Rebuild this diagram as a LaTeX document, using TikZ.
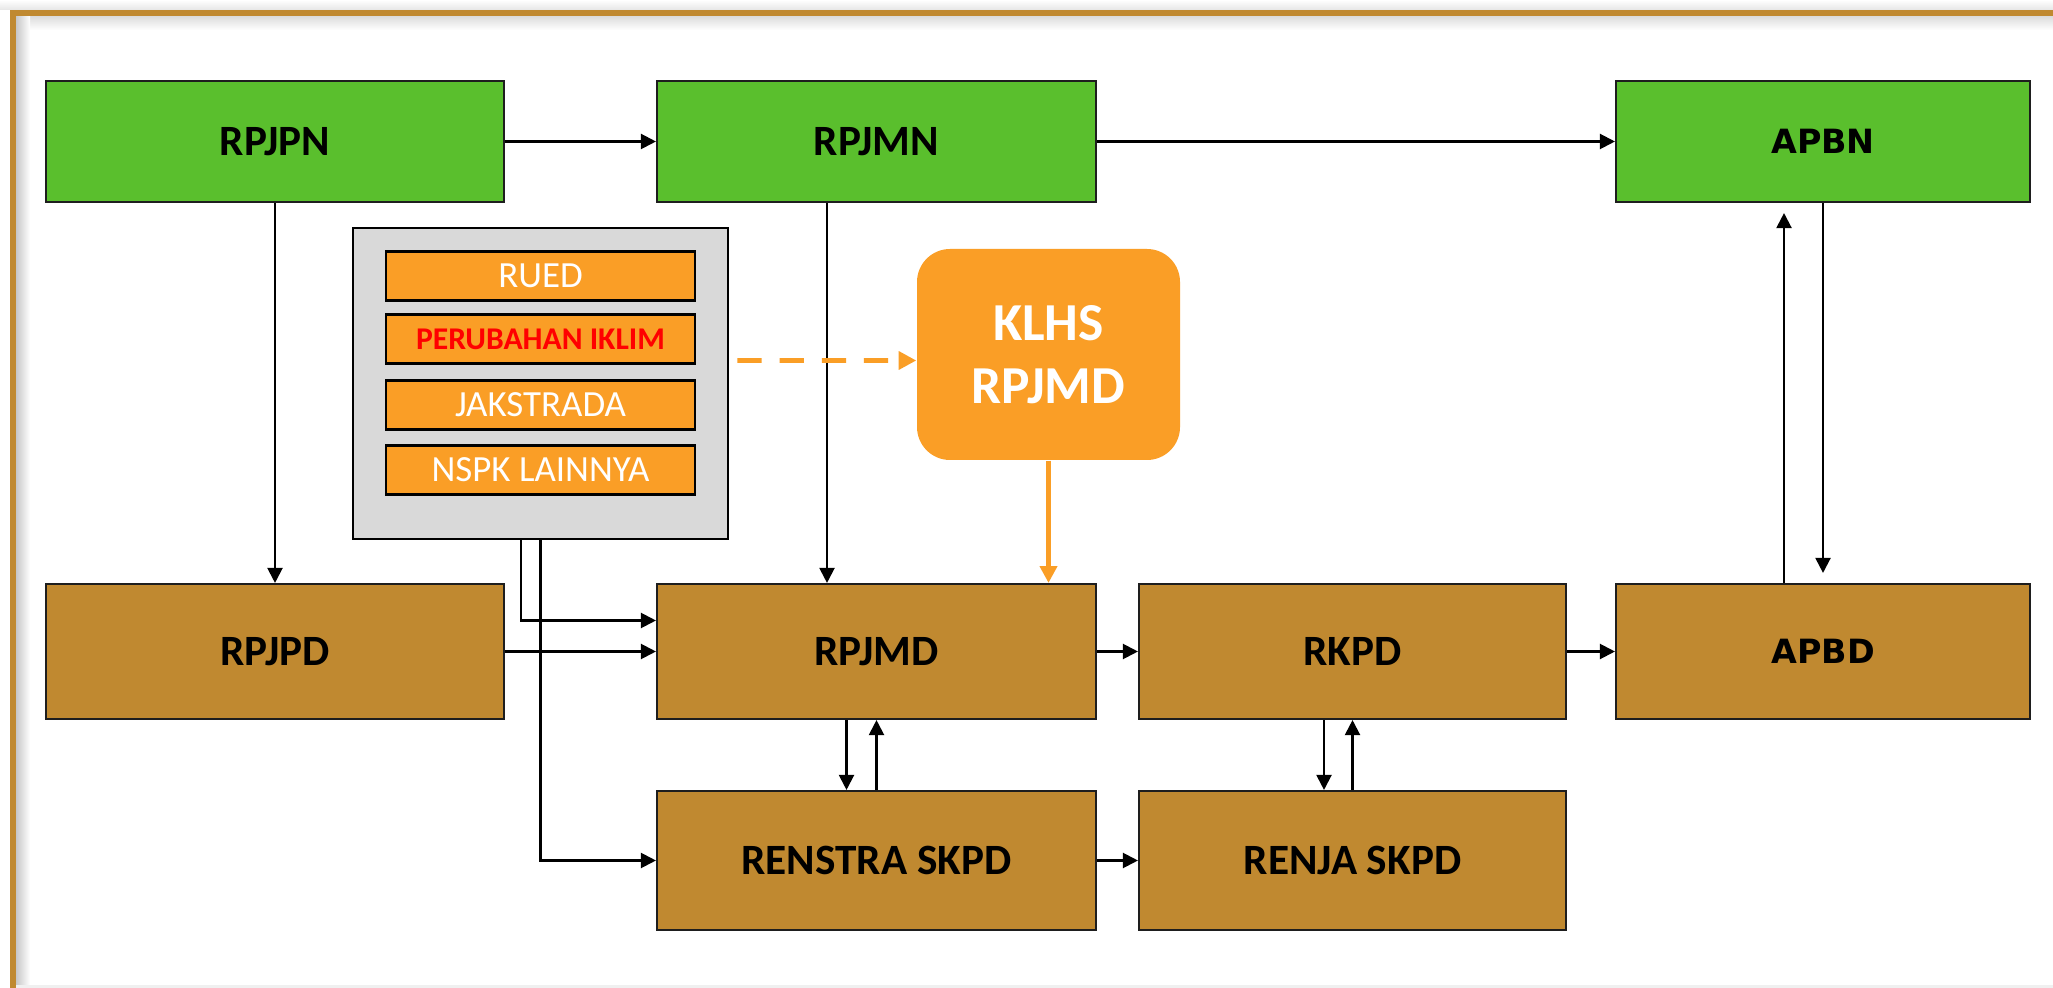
\documentclass[tikz,border=0pt]{standalone}
\usepackage{fontspec}
\setmainfont{Carlito}
\newfontfamily\lebar{DejaVu Sans}
\usepackage{tikz}
\usetikzlibrary{arrows.meta}
\definecolor{hijau}{RGB}{90,191,45}
\definecolor{coklat}{RGB}{192,137,48}
\definecolor{oranye}{RGB}{250,158,38}
\definecolor{abu}{RGB}{217,217,217}
\definecolor{garis}{RGB}{30,30,30}
\tikzstyle{pusat} = [rectangle, minimum width=4.58cm, minimum height=1.21cm, text centered, draw=garis, line width=0.6pt, fill=hijau, font=\fontsize{12.3}{14}\selectfont\bfseries]
\tikzstyle{daerah} = [rectangle, minimum width=4.58cm, minimum height=1.35cm, text centered, draw=garis, line width=0.6pt, fill=coklat, font=\fontsize{12.3}{14}\selectfont\bfseries]
\tikzstyle{anggaran} = [font=\lebar\fontsize{9.5}{11}\selectfont\bfseries, minimum width=4.14cm]
\tikzstyle{wadah} = [rectangle, minimum width=3.75cm, minimum height=3.11cm, draw=black, line width=0.8pt, fill=abu]
\tikzstyle{isu} = [rectangle, minimum width=3.09cm, minimum height=0.49cm, text centered, draw=black, line width=0.7pt, fill=oranye, text=white, font=\fontsize{10.5}{12}\selectfont]
\tikzstyle{kajian} = [rectangle, rounded corners=0.33cm, minimum width=2.63cm, minimum height=2.11cm, align=center, fill=oranye, text=white, font=\fontsize{15.2}{18}\selectfont\bfseries]
\tikzstyle{arrow} = [line width=0.6pt, -{Triangle[length=4.3pt, width=4.3pt]}]
\tikzstyle{klhsarrow} = [oranye, line width=1.2pt, -{Triangle[length=4.8pt, width=4.8pt]}]
\tikzstyle{dasharrow} = [oranye, line width=1.4pt, dash pattern=on 6.9pt off 5.1pt, -{Triangle[length=5pt, width=5pt]}]
\begin{document}
\begin{tikzpicture}[node distance=1.5cm]
		\useasboundingbox (0,0) rectangle (20.53,-9.88);
		% bingkai
		\fill [white] (0,0) rectangle (20.53,-9.88);
		\shade [top color=white, bottom color=black!10] (0,0) rectangle (20.53,-0.1);
		\shade [top color=black!14, bottom color=white] (0.16,-0.16) rectangle (20.53,-0.3);
		\shade [left color=black!22, right color=white] (0.16,-0.16) rectangle (0.3,-9.88);
		\fill [black!6] (0.16,-9.85) rectangle (20.53,-9.88);
		\draw [coklat, line width=1.7pt] (0.13,-9.88) -- (0.13,-0.13) -- (20.53,-0.13);
		
		\node (rpjpn) [pusat] at (2.75,-1.415) {RPJPN};
		\node (rpjmn) [pusat, right of=rpjpn, xshift=4.515cm, minimum width=4.39cm] {RPJMN};
		\node (apbn) [pusat, anggaran, right of=rpjmn, xshift=7.965cm] {APBN};
		\node (rpjpd) [daerah, below of=rpjpn, yshift=-3.6cm] {RPJPD};
		\node (rpjmd) [daerah, below of=rpjmn, yshift=-3.6cm, minimum width=4.39cm] {RPJMD};
		\node (rkpd) [daerah, right of=rpjmd, xshift=3.26cm, minimum width=4.27cm] {RKPD};
		\node (apbd) [daerah, anggaran, below of=apbn, yshift=-3.6cm] {APBD};
		\node (renstra) [daerah, below of=rpjmd, yshift=-0.59cm, minimum width=4.39cm, minimum height=1.39cm] {RENSTRA SKPD};
		\node (renja) [daerah, below of=rkpd, yshift=-0.59cm, minimum width=4.27cm, minimum height=1.39cm] {RENJA SKPD};
		\node (klhs) [kajian, below of=rpjmn, xshift=1.72cm, yshift=-0.63cm] {KLHS\\RPJMD};
		
		\node (acuan) [wadah, below of=rpjpn, xshift=2.655cm, yshift=-0.92cm] {};
		\node (rued) [isu, above of=acuan, yshift=-0.425cm] {RUED};
		\node (iklim) [isu, below of=rued, yshift=0.87cm, text=red, font=\fontsize{9}{11}\selectfont\bfseries] {PERUBAHAN IKLIM};
		\node (jakstrada) [isu, below of=iklim, yshift=0.84cm] {JAKSTRADA};
		\node (nspk) [isu, below of=jakstrada, yshift=0.85cm] {NSPK LAINNYA};
		
		\draw [arrow] (rpjpn) -- (rpjmn);
		\draw [arrow] (rpjmn) -- (apbn);
		\draw [arrow] (rpjpn) -- (rpjpd);
		\draw [arrow] ([xshift=-0.495cm]rpjmn.south) -- ([xshift=-0.495cm]rpjmd.north);
		\draw [klhsarrow] (klhs.south) -- (klhs.south |- rpjmd.north);
		\draw [dasharrow] ([xshift=0.08cm, yshift=0.23cm]acuan.east) -- ([yshift=-0.06cm]klhs.west);
		\draw [arrow] ([xshift=-0.195cm]acuan.south) |- ([yshift=0.31cm]rpjmd.west);
		\draw [arrow] (acuan.south) |- (renstra.west);
		\draw [arrow] (rpjpd) -- (rpjmd);
		\draw [arrow] (rpjmd) -- (rkpd);
		\draw [arrow] (rkpd) -- (apbd);
		\draw [arrow] ([xshift=-0.3cm]rpjmd.south) -- ([xshift=-0.3cm]renstra.north);
		\draw [arrow] (renstra) -- (rpjmd);
		\draw [arrow] ([xshift=-0.285cm]rkpd.south) -- ([xshift=-0.285cm]renja.north);
		\draw [arrow] (renja) -- (rkpd);
		\draw [arrow] (renstra) -- (renja);
		\draw [arrow] ([xshift=-0.39cm]apbd.north) -- ([xshift=-0.39cm, yshift=-0.1cm]apbn.south);
		\draw [arrow] (apbn.south) -- ([yshift=0.1cm]apbd.north);
		
		\end{tikzpicture}
\end{document}
